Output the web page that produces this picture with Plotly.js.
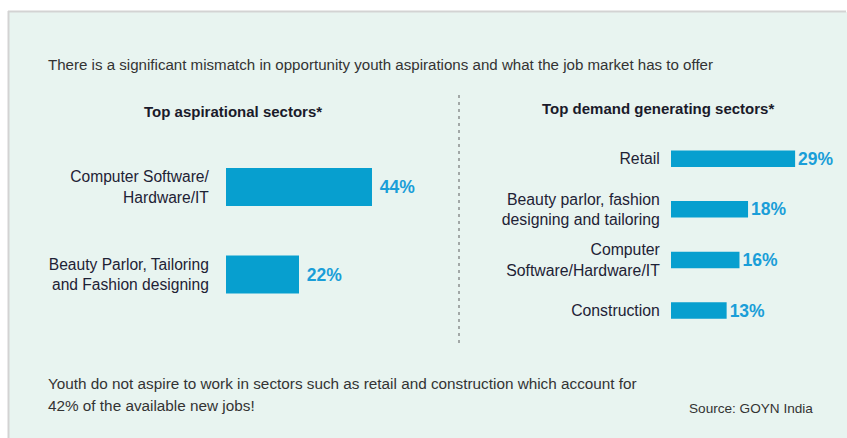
<!DOCTYPE html>
<html>
<head>
<meta charset="utf-8">
<script src="https://cdn.plot.ly/plotly-3.0.1.min.js"></script>
<style>html,body{margin:0;padding:0;background:#fff;}#chart{width:847px;height:438px;}</style>
</head>
<body>
<div id="chart"></div>
<script>
// Data
var aspCategories = ["Computer Software/<br>Hardware/IT", "Beauty Parlor, Tailoring<br>and Fashion designing"];
var aspValues = [44, 22];
var demCategories = ["Retail", "Beauty parlor, fashion<br>designing and tailoring", "Computer<br>Software/Hardware/IT", "Construction"];
var demValues = [29, 18, 16, 13];
var titleText = "There is a significant mismatch in opportunity youth aspirations and what the job market has to offer";
var leftHeader = "Top aspirational sectors*";
var rightHeader = "Top demand generating sectors*";
var footLine1 = "Youth do not aspire to work in sectors such as retail and construction which account for";
var footLine2 = "42% of the available new jobs!";
var sourceText = "Source: GOYN India";

var W = 847, H = 438;
function px(x){return x/W;}
function py(y){return 1 - y/H;}

var barColor = "#079fcf";
var valColor = "#1a9ed8";
var font = "Liberation Sans, Arial, Helvetica, sans-serif";

var traces = [
  {
    type: "bar", orientation: "h",
    x: aspValues, y: aspCategories,
    xaxis: "x", yaxis: "y",
    marker: {color: barColor},
    width: 0.434,
    text: aspValues.map(function(v){return "&nbsp;" + v + "%";}),
    textposition: "outside",
    constraintext: "none",
    cliponaxis: false,
    textfont: {color: valColor, size: 17.5, family: font, weight: "bold"},
    hoverinfo: "none"
  },
  {
    type: "bar", orientation: "h",
    x: demValues, y: demCategories,
    xaxis: "x2", yaxis: "y2",
    marker: {color: barColor},
    width: 0.326,
    text: demValues.map(function(v){return v + "%";}),
    textposition: "outside",
    constraintext: "none",
    cliponaxis: false,
    textfont: {color: valColor, size: 17.5, family: font, weight: "bold"},
    hoverinfo: "none"
  }
];

var layout = {
  width: W, height: H,
  margin: {l: 0, r: 0, t: 0, b: 0},
  paper_bgcolor: "#ffffff",
  plot_bgcolor: "rgba(0,0,0,0)",
  showlegend: false,
  font: {family: font, color: "#1e2235"},
  xaxis: {
    domain: [px(226), px(226 + 3.318 * 60)],
    range: [0, 60], visible: false, fixedrange: true
  },
  yaxis: {
    domain: [py(318.25), py(143.25)],
    type: "category", categoryarray: aspCategories,
    range: [1.5, -0.5],
    showgrid: false, zeroline: false, showline: false,
    ticks: "outside", ticklen: 13, tickcolor: "rgba(0,0,0,0)",
    tickfont: {size: 15.6, color: "#1e2235", family: font},
    fixedrange: true
  },
  xaxis2: {
    domain: [px(671), px(671 + 4.28 * 40)],
    range: [0, 40], visible: false, fixedrange: true
  },
  yaxis2: {
    domain: [py(335.8), py(133.4)],
    type: "category", categoryarray: demCategories,
    range: [3.5, -0.5],
    showgrid: false, zeroline: false, showline: false,
    ticks: "outside", ticklen: 7, tickcolor: "rgba(0,0,0,0)",
    tickfont: {size: 15.8, color: "#1e2235", family: font},
    anchor: "x2",
    fixedrange: true
  },
  shapes: [
    {type: "rect", xref: "paper", yref: "paper", x0: px(9), x1: 1, y0: 0, y1: py(12),
     fillcolor: "#e8f4f0", line: {width: 0}, layer: "below"},
    {type: "line", xref: "paper", yref: "paper", x0: px(8), x1: px(846), y0: py(11.5), y1: py(11.5),
     line: {color: "#d3d3d3", width: 2}, layer: "below"},
    {type: "line", xref: "paper", yref: "paper", x0: px(8.5), x1: px(8.5), y0: 0, y1: py(11),
     line: {color: "#d3d3d3", width: 2}, layer: "below"},
    {type: "line", xref: "paper", yref: "paper", x0: px(459), x1: px(459), y0: py(95), y1: py(343),
     line: {color: "#8a8f8f", width: 1.5, dash: "3px,4px"}}
  ],
  annotations: [
    {text: titleText, xref: "paper", yref: "paper", x: px(46), y: py(65), xanchor: "left", yanchor: "middle",
     showarrow: false, font: {size: 15.1, color: "#333333", family: font}},
    {text: "<b>" + leftHeader + "</b>", xref: "paper", yref: "paper", x: px(233), y: py(111), xanchor: "center", yanchor: "middle",
     showarrow: false, font: {size: 15, color: "#1a1a2a", family: font}},
    {text: "<b>" + rightHeader + "</b>", xref: "paper", yref: "paper", x: px(658), y: py(108), xanchor: "center", yanchor: "middle",
     showarrow: false, font: {size: 15, color: "#1a1a2a", family: font}},
    {text: footLine1, xref: "paper", yref: "paper", x: px(46), y: py(383), xanchor: "left", yanchor: "middle",
     showarrow: false, font: {size: 15.3, color: "#333333", family: font}},
    {text: footLine2, xref: "paper", yref: "paper", x: px(46), y: py(405), xanchor: "left", yanchor: "middle",
     showarrow: false, font: {size: 15.3, color: "#333333", family: font}},
    {text: sourceText, xref: "paper", yref: "paper", x: px(815), y: py(408), xanchor: "right", yanchor: "middle",
     showarrow: false, font: {size: 13.6, color: "#333333", family: font}}
  ]
};

Plotly.newPlot("chart", traces, layout, {displayModeBar: false, staticPlot: true});
</script>
</body>
</html>
